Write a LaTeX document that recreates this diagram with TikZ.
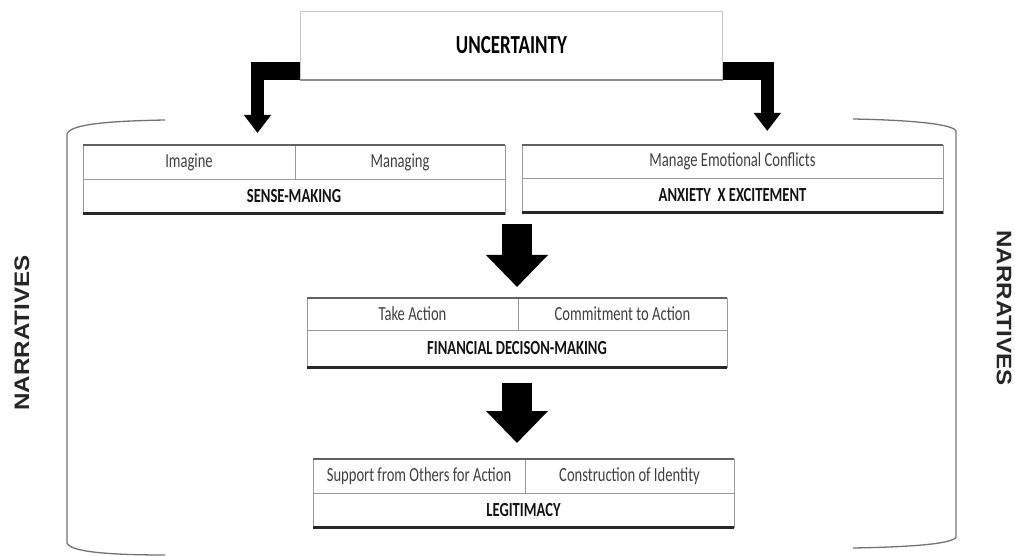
\documentclass[tikz,border=0pt]{standalone}
\usepackage{fontspec}
\setmainfont{Carlito}
\newfontfamily\narrfont{Liberation Sans}
\usetikzlibrary{arrows.meta,calc,positioning}

% labels are set narrow, as in the original figure
\newcommand{\slim}[1]{\scalebox{0.73}[1]{#1}}

\begin{document}
\begin{tikzpicture}[x=1pt,y=-1pt,
  cell/.style={draw=black!40,line width=0.8pt,inner sep=0pt,outer sep=0pt,minimum height=34pt,text=black!75,font=\fontsize{20}{22}\selectfont},
  headcell/.style={cell,minimum height=35pt,text=black!92,font=\fontsize{20}{22}\selectfont\bfseries},
  topline/.style={draw=black!62,line width=1.2pt},
  boxfoot/.style={draw=black!85,line width=3pt},
  elbowbar/.style={line width=18pt},
  elbowshaft/.style={line width=13pt,-{Triangle[length=18pt,width=26pt]}},
  bigarrow/.style={line width=30pt,-{Triangle[length=32pt,width=60pt]}},
  bracket/.style={draw=black!55,line width=1.3pt},
  narr/.style={font=\narrfont\fontsize{21}{24}\selectfont\bfseries,text=black!85}]

\fill[white] (0,0) rectangle (1015,556);
\useasboundingbox (0,0) rectangle (1015,556);

% top box
\node[draw=black!22,line width=0.8pt,minimum width=422pt,minimum height=68pt,anchor=north west,
      font=\fontsize{26}{28}\selectfont\bfseries] (unc) at (300,11) {\slim{UNCERTAINTY}};
\draw[draw=black!45,line width=1.5pt] (unc.south west) -- (unc.south east);

% sense-making
\node[cell,minimum width=212pt,anchor=north west] (imagine) at (83,145) {\slim{Imagine}};
\node[cell,minimum width=210pt,right=0pt of imagine] (managing) {\slim{Managing}};
\node[headcell,minimum width=422pt,below=0pt of imagine.south west,anchor=north west] (sense) {\slim{SENSE-MAKING}};
\draw[topline] (imagine.north west) -- (managing.north east);
\draw[boxfoot] (sense.south west) -- (sense.south east);

% anxiety x excitement
\node[cell,minimum width=421pt,minimum height=33pt,anchor=north west] (conflicts) at (522,145) {\slim{Manage Emotional Conflicts}};
\node[headcell,minimum width=421pt,below=0pt of conflicts.south west,anchor=north west] (anxiety) {\slim{ANXIETY\ \ X EXCITEMENT}};
\draw[topline] (conflicts.north west) -- (conflicts.north east);
\draw[boxfoot] (anxiety.south west) -- (anxiety.south east);

% financial decision-making
\node[cell,minimum width=211pt,minimum height=32pt,anchor=north west] (takeaction) at (307,298) {\slim{Take Action}};
\node[cell,minimum width=209pt,minimum height=32pt,right=0pt of takeaction] (commitment) {\slim{Commitment to Action}};
\node[headcell,minimum width=420pt,minimum height=37pt,below=0pt of takeaction.south west,anchor=north west] (fin) {\slim{FINANCIAL DECISON-MAKING}};
\draw[topline] (takeaction.north west) -- (commitment.north east);
\draw[boxfoot] (fin.south west) -- (fin.south east);

% legitimacy
\node[cell,minimum width=212pt,anchor=north west] (support) at (313,459) {\slim{Support from Others for Action}};
\node[cell,minimum width=209pt,right=0pt of support] (identity) {\slim{Construction of Identity}};
\node[headcell,minimum width=421pt,minimum height=34pt,below=0pt of support.south west,anchor=north west] (legit) {\slim{LEGITIMACY}};
\draw[topline] (support.north west) -- (identity.north east);
\draw[boxfoot] (legit.south west) -- (legit.south east);

% elbow arrows out of the top box
\path (unc.south west) ++(0,-9) coordinate (lout) ++(-49,0) coordinate (lbend);
\draw[elbowbar] (lout) -- (lbend);
\draw[elbowshaft,shorten >=12pt] ($(lbend)+(6.5,-9)$) -- ($(lbend |- imagine.north)+(6.5,0)$);
\path (unc.south east) ++(0,-9) coordinate (rout) ++(51,0) coordinate (rbend);
\draw[elbowbar] (rout) -- (rbend);
\draw[elbowshaft,shorten >=14pt] ($(rbend)+(-6.5,-9)$) -- ($(rbend |- conflicts.north)+(-6.5,0)$);

% block arrows down the middle
\draw[bigarrow,shorten <=10pt,shorten >=11pt] (fin.north |- sense.south) -- (takeaction.north -| fin.north);
\draw[bigarrow,shorten <=16pt,shorten >=16pt] (fin.south) -- (support.north -| fin.south);

% brackets
\draw[bracket] (165,120) .. controls (110,121) and (70,124) .. (67,134) -- (67,543)
  .. controls (70,552) and (110,555) .. (165,555);
\draw[bracket] (853,119) .. controls (910,120) and (953,124) .. (956,131) -- (956,537)
  .. controls (953,544) and (910,547) .. (853,548);

\node[narr,rotate=90] (narrleft) at (22,333) {\scalebox{1.15}[1]{NARRATIVES}};
\node[narr,rotate=-90] (narrright) at (1004,308) {\scalebox{1.15}[1]{NARRATIVES}};

\end{tikzpicture}
\end{document}
